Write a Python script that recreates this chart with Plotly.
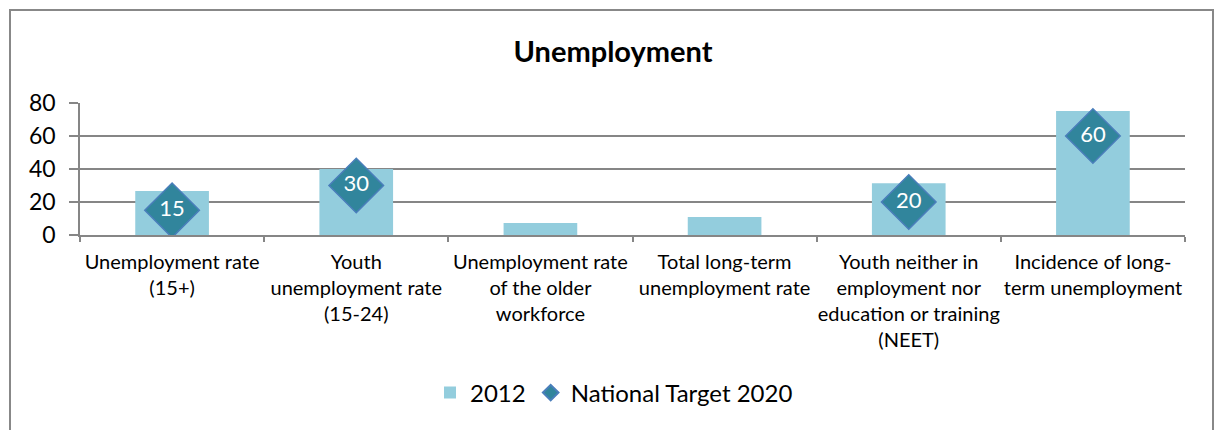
import plotly.graph_objects as go

categories = [
    "Unemployment rate<br>(15+)",
    "Youth<br>unemployment rate<br>(15-24)",
    "Unemployment rate<br>of the older<br>workforce",
    "Total long-term<br>unemployment rate",
    "Youth neither in<br>employment nor<br>education or training<br>(NEET)",
    "Incidence of long-<br>term unemployment",
]
values_2012 = [26.7, 40.0, 7.3, 10.9, 31.3, 75.2]
target_cats = [categories[0], categories[1], categories[4], categories[5]]
target_2020 = [15, 30, 20, 60]

FONT = "Lato, 'Open Sans', sans-serif"
GRID = "#868686"

fig = go.Figure()
fig.add_trace(go.Bar(
    x=categories, y=values_2012, name="2012",
    marker=dict(color="#93CDDD", line=dict(width=0)),
))
fig.add_trace(go.Scatter(
    x=target_cats, y=target_2020, name="National Target 2020",
    mode="markers+text",
    text=[str(v) for v in target_2020],
    textposition="middle center",
    textfont=dict(color="white", size=22, family=FONT),
    marker=dict(symbol="diamond", size=42, color="#31859C",
                line=dict(color="#4A7EBB", width=1.5)),
))

# chart-area frame
W, H = 1214, 430
L, R, T, B = 80, 29, 103, 195
pw, ph = W - L - R, H - T - B
def px(x):
    return (x - L) / pw
def py(y):
    return (H - B - y) / ph
fig.add_shape(type="rect", xref="paper", yref="paper",
              x0=px(10), x1=px(1213), y0=py(445), y1=py(10),
              line=dict(color="#888888", width=2), layer="below")

fig.update_layout(
    width=W, height=H,
    margin=dict(l=L, r=R, t=T, b=B, autoexpand=False),
    paper_bgcolor="white", plot_bgcolor="white",
    font=dict(family=FONT, color="black"),
    title=dict(text="<b>Unemployment</b>", xref="container", x=613 / W,
               xanchor="center", yref="container",
               y=1 - 52 / H, yanchor="middle",
               font=dict(size=29, family=FONT, color="black")),
    bargap=0.6,
    showlegend=True,
    legend=dict(orientation="h", x=px(614), xanchor="center",
                y=py(393), yanchor="middle",
                font=dict(size=24, family=FONT), itemsizing="constant",
                itemwidth=30, traceorder="normal"),
    xaxis=dict(
        type="category", tickson="boundaries", ticks="outside", ticklen=5,
        tickcolor=GRID, tickwidth=1.5, showline=True, linecolor=GRID,
        linewidth=1.5, showgrid=False, tickfont=dict(size=20, family=FONT),
        ticklabelstandoff=8, tickangle=0, automargin=False,
    ),
    yaxis=dict(
        range=[0, 80], dtick=20, ticks="outside", ticklen=9, tickcolor=GRID,
        tickwidth=1.5, showline=True, linecolor=GRID, linewidth=1.5,
        showgrid=True, gridcolor=GRID, gridwidth=1.5, zeroline=False,
        tickfont=dict(size=23, family=FONT), ticklabelstandoff=9,
        automargin=False,
    ),
)

fig.write_html("out.html")
